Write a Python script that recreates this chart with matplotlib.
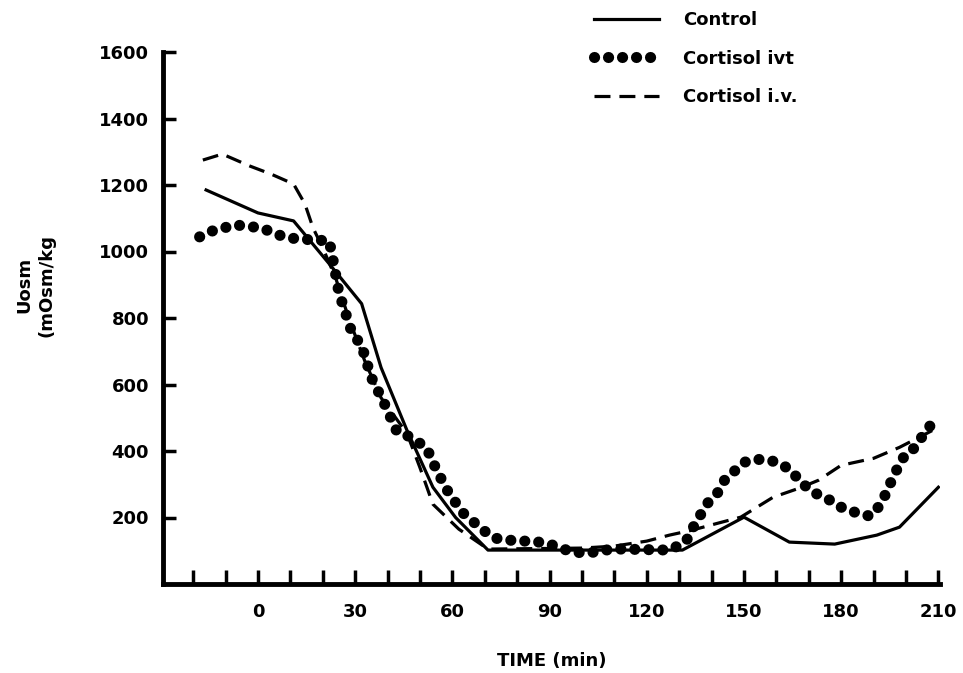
import matplotlib
matplotlib.use('Agg')
import matplotlib.pyplot as plt
from matplotlib.ticker import MultipleLocator

# values
control_t = [-16, 0, 11, 22, 32, 38, 46, 54, 61, 71, 131, 150, 164, 178, 191, 198, 210]
control_u = [1185, 1116, 1092, 963, 843, 651, 462, 291, 200, 102, 102, 201, 126, 120, 147, 171, 291]

ivt_t = [-18, -14, -7, 1, 8, 12, 22, 23, 25, 29, 32, 35, 39, 43, 46, 52, 54, 58, 63,
         69.5, 73, 80, 85, 90, 97, 102, 107, 112, 127, 132, 135, 139, 142, 144, 147,
         150, 154, 158, 161, 165, 167, 172, 176, 180, 185, 189, 192, 194, 196, 198,
         200, 203, 205, 208, 209.5]
ivt_u = [1044, 1062, 1080, 1071, 1044, 1038, 1032, 984, 876, 756, 717, 621, 543, 456,
         447, 411, 366, 288, 216, 162, 138, 129, 129, 120, 96, 93, 102, 105, 102, 126,
         183, 246, 276, 312, 339, 366, 375, 372, 363, 339, 309, 273, 255, 231, 213, 204,
         237, 276, 321, 360, 393, 411, 444, 483, 504]

iv_t = [-17, -11, -2.5, 4, 11, 14.5, 17, 20, 24, 28, 33, 38, 46, 50, 54, 62, 71, 100,
        110, 120, 127, 134, 142, 149, 159, 167, 173, 180, 190, 198, 210]
iv_u = [1275, 1293, 1257, 1233, 1203, 1143, 1071, 1011, 920, 800, 670, 560, 453, 350,
        240, 165, 105, 108, 114, 129, 147, 162, 183, 201, 261, 288, 312, 357, 378, 411, 471]

x_labels = [0, 30, 60, 90, 120, 150, 180, 210]
y_labels = [200, 400, 600, 800, 1000, 1200, 1400, 1600]

fig = plt.figure(figsize=(9.63, 6.73), dpi=100)
ax = fig.add_axes([163 / 963, 1 - 584 / 673, 777 / 963, 532 / 673])

ax.plot(control_t, control_u, color='black', lw=2.3, label='Control')
ax.plot(ivt_t, ivt_u, color='black', lw=8, ls=(0, (0.01, 1.25)),
        dash_capstyle='round', label='Cortisol ivt')
ax.plot(iv_t, iv_u, color='black', lw=2.3, ls=(0, (5, 2.8)), label='Cortisol i.v.')

ax.set_xlim(-29.3, 210.5)
ax.set_ylim(0, 1600)
ax.set_xticks(x_labels)
ax.xaxis.set_minor_locator(MultipleLocator(10))
ax.set_yticks(y_labels)
ax.tick_params(axis='both', which='both', direction='in', width=2.5, length=9,
               labelsize=13)
ax.tick_params(axis='x', which='both', pad=14, length=10)
ax.tick_params(axis='y', pad=10)
for lab in ax.get_xticklabels() + ax.get_yticklabels():
    lab.set_fontweight('bold')

for s in ['top', 'right']:
    ax.spines[s].set_visible(False)
for s in ['left', 'bottom']:
    ax.spines[s].set_linewidth(3.5)
ax.spines['bottom'].set_capstyle('projecting')

ax.set_xlabel('TIME (min)', fontsize=13, fontweight='bold', labelpad=22)
fig.text(35 / 963, 1 - 285 / 673, 'Uosm\n(mOsm/kg', rotation=90, ha='center',
         va='center', fontsize=13, fontweight='bold', linespacing=1.3)

leg = ax.legend(loc='upper left', bbox_to_anchor=(578 / 963, 1.008), bbox_transform=fig.transFigure,
                frameon=False, handlelength=3.6, labelspacing=1.15, handletextpad=1.3,
                prop={'size': 13, 'weight': 'bold'})

fig.savefig('out.png', dpi=100)
